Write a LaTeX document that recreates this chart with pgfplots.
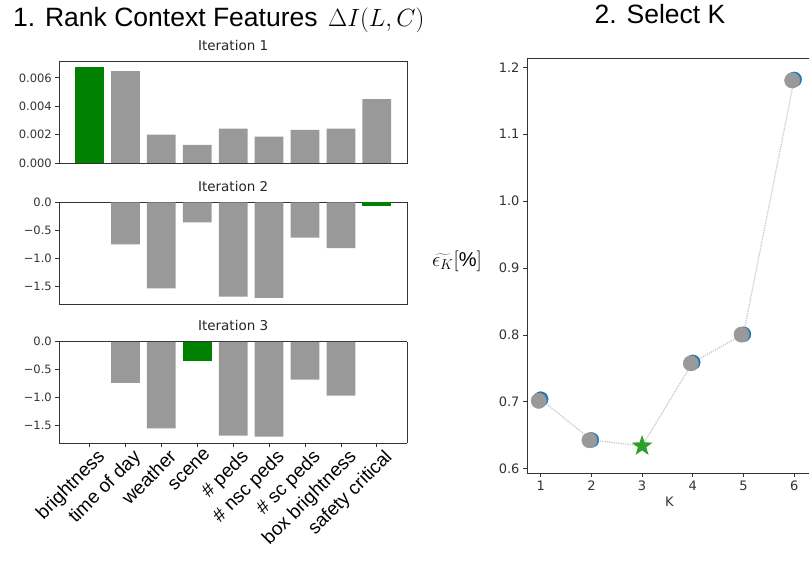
\documentclass[border=0pt]{standalone}
\usepackage{fontspec}
\setmainfont{Liberation Sans}
\newfontfamily\dejavu{DejaVu Sans}
\usepackage{pgfplots}
\pgfplotsset{compat=1.18}
\definecolor{bargray}{HTML}{999999}
\definecolor{bargreen}{HTML}{008000}
\definecolor{tabgreen}{HTML}{2CA02C}
\definecolor{tabblue}{HTML}{1F77B4}
\definecolor{mkgray}{HTML}{999999}
\definecolor{dotgray}{HTML}{CCCCCC}
\definecolor{spine}{HTML}{333333}

\pgfdeclareplotmark{fstar}{%
  \pgfpathmoveto{\pgfpointpolar{90}{\pgfplotmarksize}}%
  \pgfpathlineto{\pgfpointpolar{126}{0.40\pgfplotmarksize}}%
  \pgfpathlineto{\pgfpointpolar{162}{\pgfplotmarksize}}%
  \pgfpathlineto{\pgfpointpolar{198}{0.40\pgfplotmarksize}}%
  \pgfpathlineto{\pgfpointpolar{234}{\pgfplotmarksize}}%
  \pgfpathlineto{\pgfpointpolar{270}{0.40\pgfplotmarksize}}%
  \pgfpathlineto{\pgfpointpolar{306}{\pgfplotmarksize}}%
  \pgfpathlineto{\pgfpointpolar{342}{0.40\pgfplotmarksize}}%
  \pgfpathlineto{\pgfpointpolar{18}{\pgfplotmarksize}}%
  \pgfpathlineto{\pgfpointpolar{54}{0.40\pgfplotmarksize}}%
  \pgfpathclose
  \pgfusepathqfill}

\pgfplotsset{
  leftax/.style={
    scale only axis, anchor=south west,
    width=347.7pt, height=101.5pt,
    xmin=-0.84, xmax=8.84,
    scaled y ticks=false,
    axis line style={spine, line width=0.9pt},
    tick style={spine, line width=0.8pt},
    major tick length=4pt, tick align=outside,
    ytick pos=left, xtick=\empty,
    title style={font=\dejavu\fontsize{13.5}{14}\selectfont, text=black!85, at={(0.5,1)}, anchor=base, yshift=5pt},
    yticklabel style={font=\dejavu\fontsize{11.5}{12}\selectfont, text=black!80},
  },
  graybar/.style={ybar, bar width=0.8, fill=bargray, draw=none},
  greenbar/.style={ybar, bar width=0.8, fill=bargreen, draw=none},
}

\begin{document}
\begin{tikzpicture}
\useasboundingbox (0,0) rectangle (809pt,560pt);

% main titles
\node[anchor=base west, inner sep=0pt, font=\fontsize{26.5}{28}\selectfont] at (13pt,533pt) {1. Rank Context Features};
\node[anchor=base west, inner sep=0pt, font=\fontsize{25}{27}\selectfont] at (328pt,533pt) {$\Delta I(L,C)$};
\node[anchor=base, inner sep=0pt, font=\fontsize{26.5}{28}\selectfont] at (660pt,536pt) {2. Select K};

% Iteration 1
\begin{axis}[leftax, at={(59.3pt,397pt)}, title={Iteration 1},
  ymin=0, ymax=0.00715,
  ytick={0,0.002,0.004,0.006}, yticklabels={0.000,0.002,0.004,0.006}]
\addplot[graybar] coordinates {(1,0.00647) (2,0.0020) (3,0.00127) (4,0.00242) (5,0.00186) (6,0.00233) (7,0.00242) (8,0.0045)};
\addplot[greenbar] coordinates {(0,0.00678)};
\end{axis}

% Iteration 2
\begin{axis}[leftax, at={(59.3pt,256pt)}, title={Iteration 2},
  ymin=-1.82, ymax=0,
  ytick={-1.5,-1,-0.5,0}, yticklabels={−1.5,−1.0,−0.5,0.0}]
\addplot[graybar] coordinates {(1,-0.75) (2,-1.54) (3,-0.357) (4,-1.69) (5,-1.71) (6,-0.63) (7,-0.816)};
\addplot[greenbar] coordinates {(8,-0.055)};
\end{axis}

% Iteration 3
\begin{axis}[leftax, at={(59.3pt,116.7pt)}, title={Iteration 3},
  ymin=-1.83, ymax=0,
  ytick={-1.5,-1,-0.5,0}, yticklabels={−1.5,−1.0,−0.5,0.0},
  xtick={0,1,2,3,4,5,6,7,8}, xtick pos=left,
  xticklabels={brightness,time of day,weather,scene,\# peds,\# nsc peds,\# sc peds,box brightness,safety critical},
  xticklabel style={font=\fontsize{19}{20}\selectfont, rotate=45, anchor=north east, inner sep=0pt, xshift=4pt, yshift=-5pt},
  separate axis lines,
  every outer x axis line/.append style={line width=1.3pt}]
\addplot[graybar] coordinates {(1,-0.74) (2,-1.56) (4,-1.69) (5,-1.71) (6,-0.68) (7,-0.97)};
\addplot[greenbar] coordinates {(3,-0.35)};
\end{axis}

% Select K
\begin{axis}[scale only axis, anchor=south west, at={(527pt,87pt)},
  width=284.9pt, height=415pt,
  xmin=0.73, xmax=6.35, ymin=0.5936, ymax=1.214,
  axis line style={spine, line width=0.9pt},
  tick style={spine, line width=0.8pt},
  major tick length=4pt, tick align=outside,
  xtick pos=left, ytick pos=left,
  xtick={1,2,3,4,5,6}, xticklabels={1,2,3,4,5,6},
  ytick={0.6,0.7,0.8,0.9,1.0,1.1,1.2},
  yticklabels={0.6,0.7,0.8,0.9,1.0,1.1,1.2},
  ticklabel style={font=\dejavu\fontsize{13}{14}\selectfont, text=black!80},
  xlabel={K},
  xlabel style={font=\dejavu\fontsize{13}{14}\selectfont, text=black!80},
  every axis y label/.style={at={(axis description cs:-0.146,0.51)}, anchor=east},
  ylabel={$\widetilde{\epsilon_K}[\%]$},
  ylabel style={font=\fontsize{20}{22}\selectfont},
]
\addplot[dotgray, densely dotted, line width=1.3pt, mark=none] coordinates {(1,0.704) (2,0.643) (3,0.634) (4,0.759) (5,0.801) (6,1.182)};
\addplot[only marks, tabblue, mark=*, mark size=7.5pt] coordinates {(1,0.704) (2,0.643) (4,0.759) (5,0.801) (6,1.182)};
\addplot[only marks, mkgray, mark=*, mark size=7.7pt] coordinates {(0.962,0.7015) (1.962,0.6425) (3.962,0.7575) (4.962,0.8005) (5.962,1.1805)};
\addplot[only marks, mark=fstar, mark size=11pt, mark options={fill=tabgreen, draw=none}] coordinates {(3,0.634)};
\end{axis}
\end{tikzpicture}
\end{document}
